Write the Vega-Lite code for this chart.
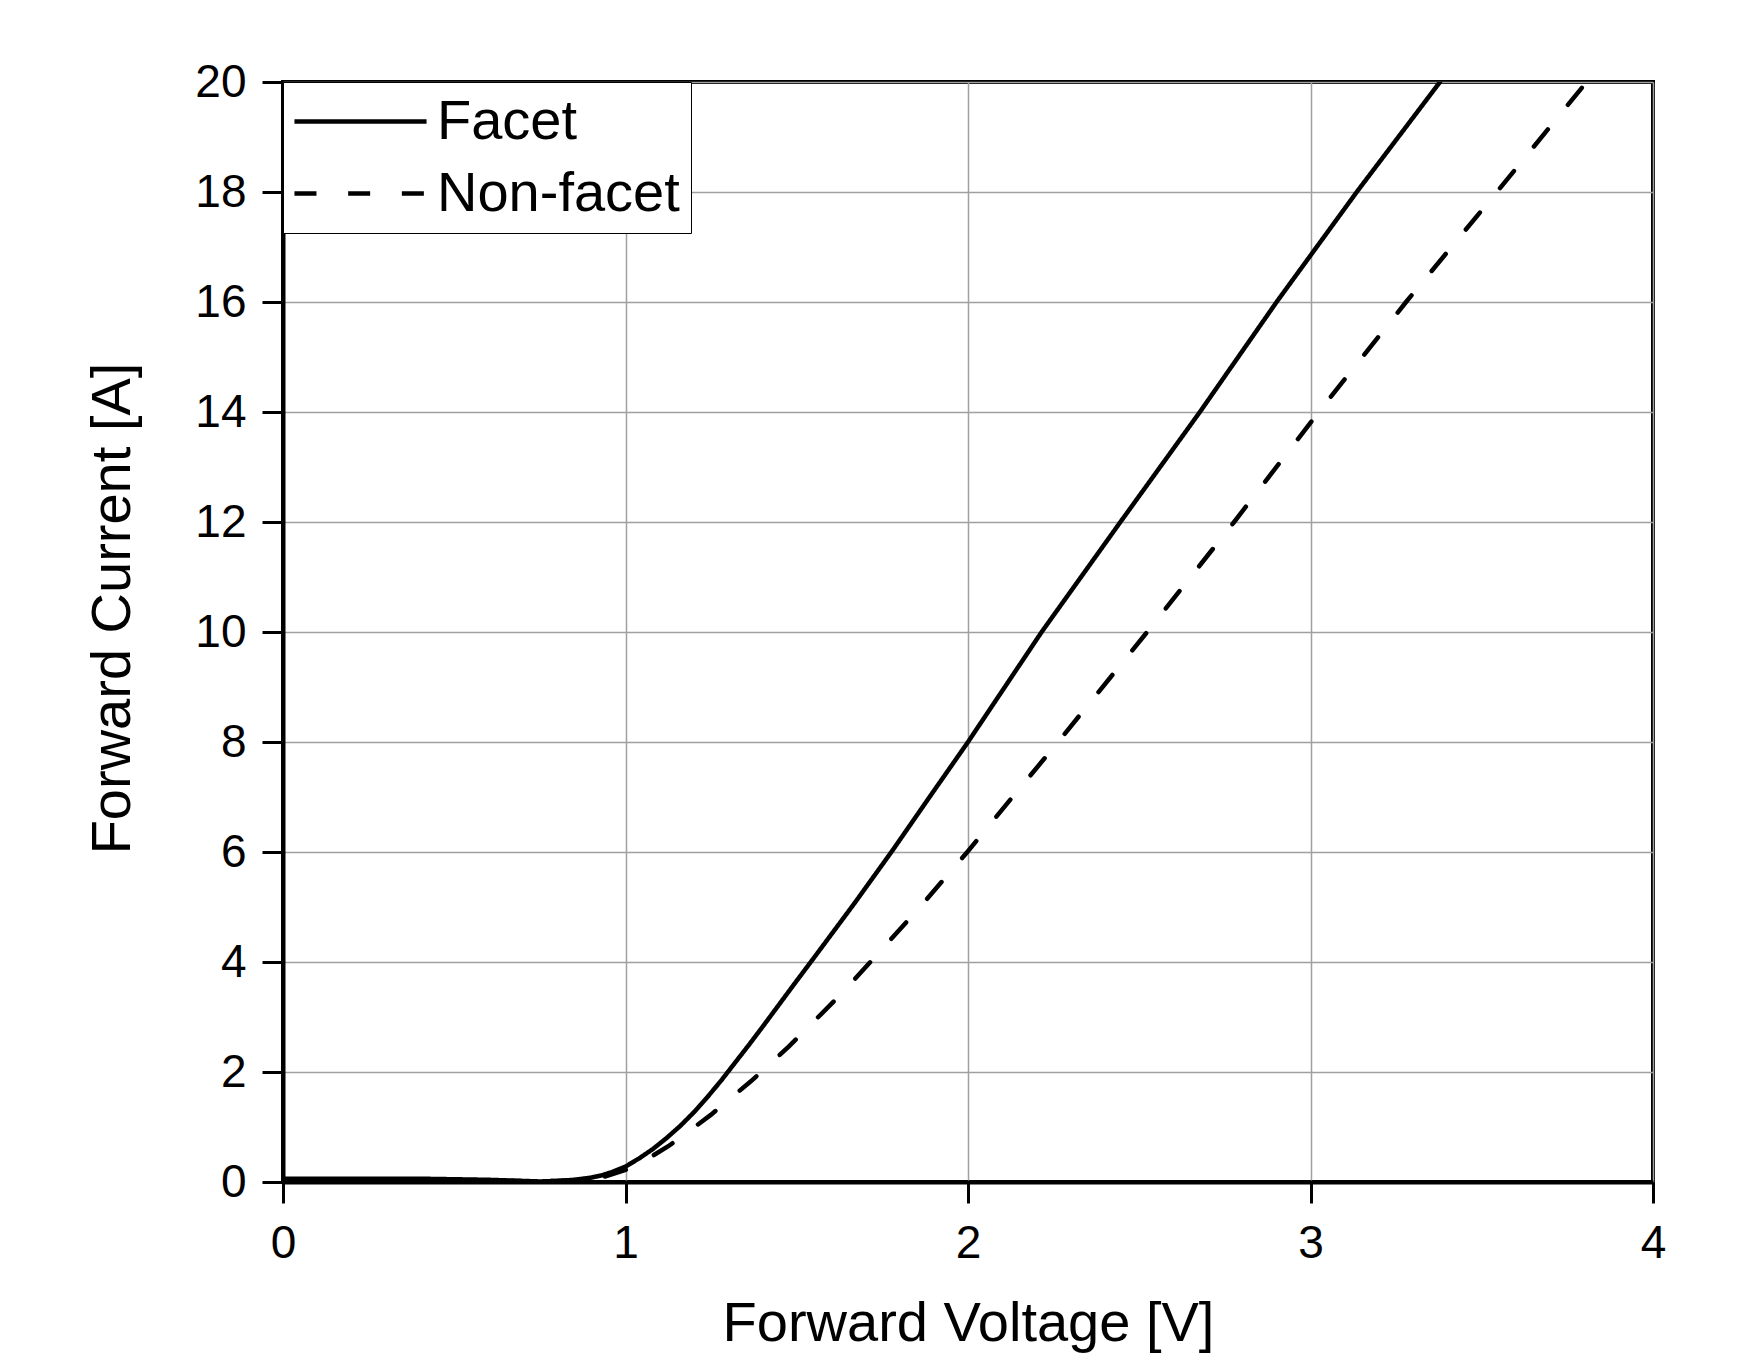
{
  "$schema": "https://vega.github.io/schema/vega-lite/v6.json",
  "width": 1370,
  "height": 1100,
  "autosize": {"type": "none"},
  "padding": {"left": 283, "top": 82, "right": 84, "bottom": 185},
  "background": "white",
  "config": {
    "font": "Liberation Sans",
    "view": {"stroke": "black", "strokeWidth": 4}
  },
  "data": {
    "values": [
      {"series": "Facet", "voltage": 0.0, "current": 0.06},
      {"series": "Facet", "voltage": 0.1, "current": 0.06},
      {"series": "Facet", "voltage": 0.2, "current": 0.06},
      {"series": "Facet", "voltage": 0.3, "current": 0.06},
      {"series": "Facet", "voltage": 0.4, "current": 0.06},
      {"series": "Facet", "voltage": 0.5, "current": 0.05},
      {"series": "Facet", "voltage": 0.6, "current": 0.04},
      {"series": "Facet", "voltage": 0.7, "current": 0.02},
      {"series": "Facet", "voltage": 0.75, "current": 0.01},
      {"series": "Facet", "voltage": 0.8, "current": 0.02},
      {"series": "Facet", "voltage": 0.85, "current": 0.04},
      {"series": "Facet", "voltage": 0.9, "current": 0.08},
      {"series": "Facet", "voltage": 0.93, "current": 0.12},
      {"series": "Facet", "voltage": 0.96, "current": 0.18},
      {"series": "Facet", "voltage": 1.0, "current": 0.28},
      {"series": "Facet", "voltage": 1.04, "current": 0.43},
      {"series": "Facet", "voltage": 1.08, "current": 0.6},
      {"series": "Facet", "voltage": 1.12, "current": 0.8},
      {"series": "Facet", "voltage": 1.16, "current": 1.02},
      {"series": "Facet", "voltage": 1.2, "current": 1.27},
      {"series": "Facet", "voltage": 1.24, "current": 1.55},
      {"series": "Facet", "voltage": 1.28, "current": 1.85},
      {"series": "Facet", "voltage": 1.32, "current": 2.17},
      {"series": "Facet", "voltage": 1.36, "current": 2.49},
      {"series": "Facet", "voltage": 1.4, "current": 2.82},
      {"series": "Facet", "voltage": 1.45, "current": 3.24},
      {"series": "Facet", "voltage": 1.5, "current": 3.66},
      {"series": "Facet", "voltage": 1.553, "current": 4.1},
      {"series": "Facet", "voltage": 1.67, "current": 5.08},
      {"series": "Facet", "voltage": 1.782, "current": 6.05},
      {"series": "Facet", "voltage": 1.89, "current": 7.02},
      {"series": "Facet", "voltage": 2.0, "current": 8.0},
      {"series": "Facet", "voltage": 2.215, "current": 10.0},
      {"series": "Facet", "voltage": 2.445, "current": 12.0},
      {"series": "Facet", "voltage": 2.677, "current": 14.0},
      {"series": "Facet", "voltage": 2.901, "current": 16.0},
      {"series": "Facet", "voltage": 3.135, "current": 18.0},
      {"series": "Facet", "voltage": 3.378, "current": 20.0},
      {"series": "Non-facet", "voltage": 0.0, "current": 0.02},
      {"series": "Non-facet", "voltage": 0.2, "current": 0.02},
      {"series": "Non-facet", "voltage": 0.4, "current": 0.02},
      {"series": "Non-facet", "voltage": 0.6, "current": 0.02},
      {"series": "Non-facet", "voltage": 0.8, "current": 0.02},
      {"series": "Non-facet", "voltage": 0.88, "current": 0.04},
      {"series": "Non-facet", "voltage": 0.94, "current": 0.1},
      {"series": "Non-facet", "voltage": 1.0, "current": 0.22},
      {"series": "Non-facet", "voltage": 1.067, "current": 0.43},
      {"series": "Non-facet", "voltage": 1.125, "current": 0.65},
      {"series": "Non-facet", "voltage": 1.193, "current": 0.96},
      {"series": "Non-facet", "voltage": 1.249, "current": 1.22},
      {"series": "Non-facet", "voltage": 1.312, "current": 1.55},
      {"series": "Non-facet", "voltage": 1.366, "current": 1.83},
      {"series": "Non-facet", "voltage": 1.429, "current": 2.19},
      {"series": "Non-facet", "voltage": 1.478, "current": 2.47},
      {"series": "Non-facet", "voltage": 1.539, "current": 2.85},
      {"series": "Non-facet", "voltage": 1.63, "current": 3.42},
      {"series": "Non-facet", "voltage": 1.715, "current": 4.0},
      {"series": "Non-facet", "voltage": 1.86, "current": 5.0},
      {"series": "Non-facet", "voltage": 1.998, "current": 6.0},
      {"series": "Non-facet", "voltage": 2.13, "current": 7.0},
      {"series": "Non-facet", "voltage": 2.263, "current": 8.0},
      {"series": "Non-facet", "voltage": 2.523, "current": 10.0},
      {"series": "Non-facet", "voltage": 2.777, "current": 12.0},
      {"series": "Non-facet", "voltage": 3.024, "current": 14.0},
      {"series": "Non-facet", "voltage": 3.279, "current": 16.0},
      {"series": "Non-facet", "voltage": 3.544, "current": 18.0},
      {"series": "Non-facet", "voltage": 3.806, "current": 20.0}
    ]
  },
  "mark": {"type": "line", "color": "black", "strokeWidth": 4.5, "strokeCap": "round", "clip": true},
  "encoding": {
    "x": {
      "field": "voltage",
      "type": "quantitative",
      "scale": {"domain": [0, 4], "nice": false},
      "axis": {
        "values": [0, 1, 2, 3, 4],
        "format": "d",
        "title": "Forward Voltage [V]",
        "titleFontSize": 56,
        "titleFontWeight": "normal",
        "titleColor": "black",
        "titlePadding": 30,
        "labelFontSize": 46,
        "labelColor": "black",
        "labelPadding": 18,
        "labelFlush": false,
        "labelOverlap": false,
        "tickSize": 21,
        "tickWidth": 3,
        "tickColor": "black",
        "domainColor": "black",
        "domainWidth": 4,
        "grid": true,
        "gridColor": "#a0a0a0",
        "gridWidth": 1.5
      }
    },
    "y": {
      "field": "current",
      "type": "quantitative",
      "scale": {"domain": [0, 20], "nice": false},
      "axis": {
        "values": [0, 2, 4, 6, 8, 10, 12, 14, 16, 18, 20],
        "format": "d",
        "title": "Forward Current [A]",
        "titleFontSize": 56,
        "titleFontWeight": "normal",
        "titleColor": "black",
        "titlePadding": 53,
        "titleY": 526,
        "labelFontSize": 46,
        "labelColor": "black",
        "labelPadding": 16,
        "labelFlush": false,
        "labelOverlap": false,
        "tickSize": 21,
        "tickWidth": 3,
        "tickColor": "black",
        "domainColor": "black",
        "domainWidth": 4,
        "grid": true,
        "gridColor": "#a0a0a0",
        "gridWidth": 1.5
      }
    },
    "strokeDash": {
      "field": "series",
      "type": "nominal",
      "scale": {"domain": ["Facet", "Non-facet"], "range": [[1, 0], [22, 31.7]]},
      "legend": {
        "orient": "none",
        "legendX": 0,
        "legendY": 0,
        "title": null,
        "symbolType": "M-2.54,0H2.54",
        "symbolSize": 2704,
        "symbolOffset": 38,
        "symbolStrokeWidth": 4.5,
        "symbolStrokeColor": "black",
        "labelFontSize": 56,
        "labelColor": "black",
        "labelOffset": 48,
        "labelLimit": 0,
        "padding": 11,
        "rowPadding": 15,
        "strokeColor": "black",
        "fillColor": "white"
      }
    }
  }
}
